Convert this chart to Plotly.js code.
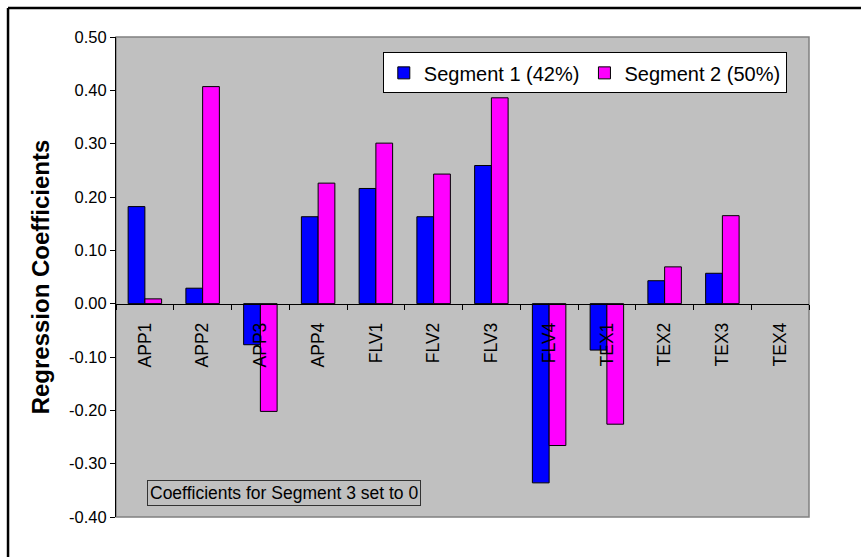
<!DOCTYPE html>
<html>
<head>
<meta charset="utf-8">
<script src="https://cdn.plot.ly/plotly-3.0.1.min.js"></script>
<style>html,body{margin:0;padding:0;background:#fff;}#chart{width:861px;height:557px;}</style>
</head>
<body>
<div id="chart"></div>
<script>
const categories = ["APP1","APP2","APP3","APP4","FLV1","FLV2","FLV3","FLV4","TEX1","TEX2","TEX3","TEX4"];
const segment1 = [0.182, 0.029, -0.077, 0.163, 0.216, 0.163, 0.259, -0.336, -0.087, 0.043, 0.057, 0];
const segment2 = [0.009, 0.407, -0.202, 0.226, 0.301, 0.243, 0.386, -0.266, -0.226, 0.069, 0.165, 0];
const seriesNames = ["Segment 1 (42%)", "Segment 2 (50%)"];
const yTickVals = [-0.4, -0.3, -0.2, -0.1, 0, 0.1, 0.2, 0.3, 0.4, 0.5];
const yTickText = ["-0.40","-0.30","-0.20","-0.10","0.00","0.10","0.20","0.30","0.40","0.50"];
const noteText = "Coefficients for Segment 3 set to 0";
const yTitle = "Regression Coefficients";

const FONT = "Liberation Sans, Arial, sans-serif";
const lineW = vals => vals.map(v => v === 0 ? 0 : 1);
const traces = [
  {type:"bar", name:seriesNames[0], x:categories, y:segment1,
   marker:{color:"#0000FF", line:{color:"#000", width:lineW(segment1)}}},
  {type:"bar", name:seriesNames[1], x:categories, y:segment2,
   marker:{color:"#FF00FF", line:{color:"#000", width:lineW(segment2)}}}
];
const yMin = -0.4, yMax = 0.5;
const layout = {
  width:861, height:557,
  margin:{l:116, r:52, t:37, b:40, pad:0},
  paper_bgcolor:"#FFFFFF",
  plot_bgcolor:"#C0C0C0",
  font:{family:FONT, color:"#000"},
  barmode:"group",
  bargap:0.42,
  bargroupgap:0,
  showlegend:true,
  legend:{orientation:"h", x:0.385, y:0.968, xanchor:"left", yanchor:"top",
          bgcolor:"#FFFFFF", bordercolor:"#000", borderwidth:1,
          font:{size:20, family:FONT}, traceorder:"normal",
          itemwidth:30, tracegroupgap:0},
  xaxis:{type:"category", anchor:"free", position:(0 - yMin)/(yMax - yMin),
         showline:true, linecolor:"#000", linewidth:1,
         ticks:"outside", ticklen:5, tickcolor:"#000", tickson:"boundaries",
         tickangle:-90, tickfont:{size:17.5, family:FONT}, ticklabelstandoff:11,
         showgrid:false, zeroline:false, fixedrange:true},
  yaxis:{range:[yMin, yMax], tickvals:yTickVals, ticktext:yTickText,
         showline:true, linecolor:"#000", linewidth:1,
         ticks:"outside", ticklen:5, tickcolor:"#000",
         tickfont:{size:16.5, family:FONT},
         showgrid:false, zeroline:false,
         title:{text:"<b>"+yTitle+"</b>", font:{size:24, family:FONT}, standoff:12}},
  shapes:[
    {type:"rect", xref:"paper", yref:"paper", x0:0, x1:1, y0:0, y1:1,
     line:{color:"#808080", width:1.5}, fillcolor:"rgba(0,0,0,0)", layer:"below"},
    {type:"line", xref:"paper", yref:"paper", x0:-0.1558, x1:1.075, y0:1.0604, y1:1.0604,
     line:{color:"#000", width:2.5}},
    {type:"line", xref:"paper", yref:"paper", x0:-0.1558, x1:-0.1558, y0:1.0604, y1:-0.09,
     line:{color:"#000", width:2.5}}
  ],
  annotations:[
    {text:noteText, xref:"paper", yref:"paper", x:0.0448, y:0.0225,
     xanchor:"left", yanchor:"bottom", showarrow:false,
     font:{size:17.5, family:FONT, color:"#000"},
     bgcolor:"rgba(0,0,0,0)", bordercolor:"#333", borderwidth:1, borderpad:2}
  ]
};
Plotly.newPlot("chart", traces, layout, {displayModeBar:false, staticPlot:true});
</script>
</body>
</html>
